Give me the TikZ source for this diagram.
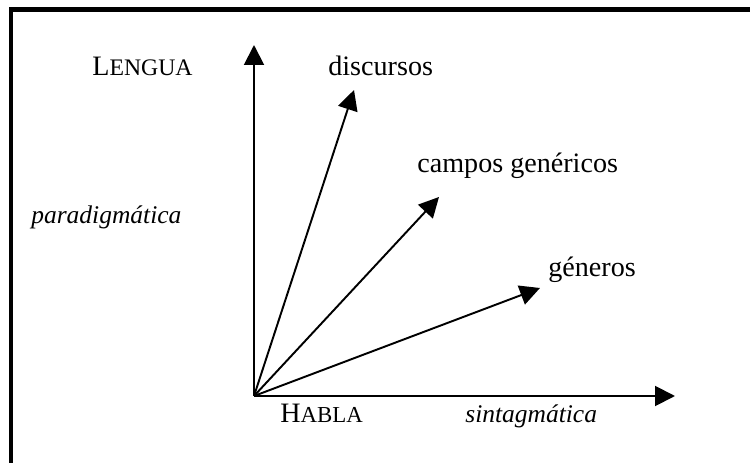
\documentclass[tikz,border=0pt]{standalone}
\usepackage{fontspec}
\setmainfont{Liberation Serif}
\usetikzlibrary{arrows.meta}

\begin{document}
\begin{tikzpicture}[scale=1.0, every node/.style={transform shape, inner sep=0pt},
    vec/.style={line width=1.1pt, -{Triangle[length=0.4cm, width=0.4cm]}},
    word/.style={anchor=base west, font=\fontsize{16}{19}\selectfont},
    slant/.style={anchor=base west, font=\fontsize{14.5}{17}\selectfont\itshape}]
            \useasboundingbox (0,0) rectangle (15,9.26);
            \clip (0,0) rectangle (15,9.26);
            \draw [line width=2.3pt] (0.226,-1.0) -- (0.226,9.07) -- (16.0,9.07);
            \coordinate (o) at (5.08,1.34);
            \coordinate (ytip) at (5.08,8.36);
            \coordinate (xtip) at (13.50,1.34);
            \coordinate (dtip) at (7.08,7.46);
            \coordinate (ctip) at (8.78,5.32);
            \coordinate (gtip) at (10.80,3.50);
            \node [word] (lengua) at (1.84,7.74) {L{\fontsize{13.5}{16}\selectfont ENGUA}};
            \node [word] (habla) at (5.60,0.80) {H{\fontsize{13}{16}\selectfont ABLA}};
            \node [word] (discursos) at (6.56,7.74) {discursos};
            \node [word] (campos) at (8.34,5.80) {campos genéricos};
            \node [word] (generos) at (10.96,3.72) {géneros};
            \node [slant] (paradigma) at (0.62,4.78) {paradigmática};
            \node [slant] (sintagma) at (9.30,0.80) {sintagmática};
            \draw [vec] (o) -- (ytip);
            \draw [vec] (o) -- (xtip);
            \draw [vec] (o) -- (dtip);
            \draw [vec] (o) -- (ctip);
            \draw [vec] (o) -- (gtip);
        \end{tikzpicture}
\end{document}
